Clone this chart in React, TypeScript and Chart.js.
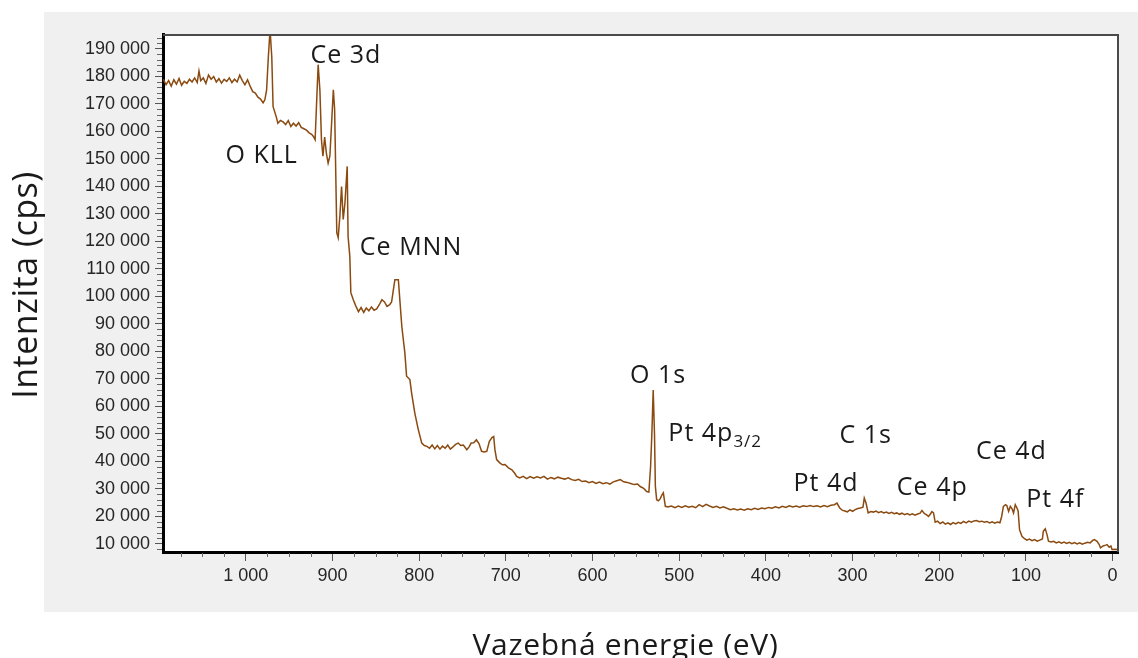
import React, { useEffect, useRef } from 'react';
import { Chart, registerables } from 'chart.js';

Chart.register(...registerables);

// Binding energy (eV) of the survey spectrum points
const energyEV = [
  1095, 1092, 1089, 1086, 1083, 1080, 1077, 1074, 1071, 1068, 1065, 1062, 1059, 1056, 1054, 1052, 1049, 1046, 1043, 1040,
  1037, 1034, 1031, 1028, 1025, 1022, 1019, 1016, 1013, 1010, 1007, 1004, 1001, 998, 995, 992, 989, 986, 983, 980,
  978, 976, 974, 972, 970, 968.5, 965, 963, 960, 957, 954, 951, 948, 945, 942, 939, 936, 933, 930, 927,
  924, 922, 920, 918, 916.5, 914.5, 912.7, 911, 909, 907, 905, 903, 901, 899, 897.5, 895, 893.4, 891.5, 889.5, 887.6,
  885.6, 883, 882, 880, 878.8, 876, 873, 870, 867, 864, 861, 858, 855, 852, 849, 846, 843, 840, 837, 834,
  831.8, 830, 828, 824, 822, 820, 816.5, 814.5, 810.7, 808.7, 805, 801, 797, 794, 791, 788, 785, 782, 779, 776,
  773, 770, 767, 764, 761, 758, 755, 752, 749, 745, 742, 740, 737, 734, 731, 728, 725, 722, 719, 716,
  714, 712.6, 710.6, 707, 704, 701, 697, 693, 690, 687.5, 684, 680, 676, 672, 668, 664, 660, 656, 652, 648,
  644, 640, 636, 632, 628, 624, 620, 616, 612, 608, 604, 600, 596, 592, 588, 584, 580, 576, 572, 568,
  564, 560, 556, 552, 548, 545, 541, 537.5, 535, 533, 531.5, 530, 528.5, 527.5, 526, 524, 522, 520, 518.3, 516,
  513, 509, 505, 501, 497, 493, 489, 485, 481, 477, 473, 469, 465, 461, 457, 453, 449, 445, 441, 437,
  433, 429, 425, 421, 417, 413, 409, 405, 401, 397, 393, 389, 385, 381, 377, 373, 369, 365, 361, 357,
  353, 349, 345, 341, 337, 333, 329, 325, 321, 318, 315, 312, 309, 306, 303, 300, 297, 294, 291, 288,
  286.5, 284.5, 282, 279, 276, 273, 270, 267, 264, 261, 258, 255, 252, 249, 246, 243, 240, 237, 234, 231,
  228, 225, 222, 220, 217, 214.5, 212.4, 210, 208.5, 206.6, 204.7, 202, 199, 196, 193, 190, 187, 184, 181, 178,
  175, 172, 169, 166, 163, 160, 157, 154, 151, 148, 145, 142, 139, 136, 133, 130, 128, 126, 123.5, 122,
  120, 118, 116, 114.3, 112.3, 110.5, 109, 107.4, 104.6, 102, 99, 96, 93, 90, 87, 84, 81, 80, 77.7, 75.7,
  74, 71, 68, 65, 62, 59, 56, 53, 50, 47, 44, 41, 38, 35, 32, 29, 26, 23, 21, 18,
  15.5, 14, 11, 8, 6.5, 4, 2, 0.7, -3, -6,
];

// Intensity (cps)
const intensityCps = [
  179000, 177000, 178500, 176500, 178800, 177200, 179300, 176800, 178200, 177500, 179000, 178000, 179500, 177800, 182000, 178500, 179500, 177500, 180500, 179000,
  180000, 178000, 179200, 177600, 179000, 178200, 179500, 177800, 179000, 178000, 180500, 178500, 177000, 178800, 176500, 174500, 174000, 172500, 171800, 170400,
  171500, 175000, 187000, 197000, 187000, 169000, 165500, 163000, 164000, 163500, 162500, 164000, 161800, 163000, 162000, 163200, 161500, 161000, 160500, 159500,
  159000, 158200, 157000, 172800, 184300, 175000, 157000, 151000, 158000, 152000, 148500, 151000, 163000, 175200, 168000, 123200, 121400, 129100, 140000, 128000,
  134000, 147300, 121900, 114600, 101400, 98800, 96500, 94500, 96000, 94200, 95800, 94800, 96200, 95000, 95500, 97000, 98800, 98000, 96400, 97000,
  98000, 101900, 106100, 106100, 97600, 89100, 79500, 71000, 69800, 64900, 57600, 51600, 46700, 45800, 45500, 44800, 46000, 44600, 45800, 44500,
  45600, 44800, 46000, 44500, 45300, 46200, 46700, 45800, 46000, 44300, 45500, 46700, 46800, 47900, 46500, 43700, 43500, 43700, 47300, 48700,
  49100, 44300, 40700, 39500, 38800, 38900, 37700, 37000, 35800, 34600, 34000, 34600, 33800, 34500, 33900, 34400, 34000, 34600, 33600, 34200,
  33700, 34300, 33900, 33600, 34100, 33400, 33100, 33500, 32700, 32900, 32300, 32700, 32000, 32500, 31900, 32300, 31800, 32600, 33000, 33400,
  32600, 32400, 32000, 31600, 31800, 30900, 30200, 29100, 28900, 38200, 50400, 66000, 50000, 31000, 26100, 25700, 26400, 27800, 28600, 23700,
  23500, 23800, 23200, 23800, 23300, 23900, 23400, 23700, 23200, 24300, 23600, 24400, 23800, 23300, 23700, 23100, 23500, 23000, 22500, 22800,
  22400, 22700, 22300, 22800, 22500, 23000, 22600, 23100, 22800, 23300, 23000, 23500, 23100, 23700, 23300, 23900, 23500, 23800, 23400, 23900,
  23600, 24000, 23600, 23900, 23500, 24000, 23600, 24100, 24300, 24900, 23200, 22300, 22000, 21700, 22400, 21900, 22500, 22900, 23100, 23400,
  26700, 24900, 21300, 21800, 21600, 22000, 21400, 21800, 21300, 21600, 21100, 21500, 21000, 21300, 20800, 21200, 20700, 21100, 20600, 21000,
  20500, 20900, 21200, 22200, 21000, 20600, 20000, 21000, 21800, 21300, 17900, 18300, 17400, 18000, 17200, 17700, 17100, 17800, 17300, 17900,
  17500, 18200, 17700, 18300, 17900, 18400, 18500, 18100, 18300, 17900, 18200, 17700, 18100, 17600, 18000, 17700, 20000, 23700, 24300, 23900,
  21900, 23700, 22800, 21300, 24300, 23200, 22000, 15200, 12800, 12000, 11400, 11800, 11200, 11600, 11000, 11400, 11800, 14600, 15500, 13400,
  11000, 10700, 11000, 10400, 10800, 10300, 10700, 10200, 10600, 10100, 10500, 10000, 10400, 9900, 10300, 10600, 10400, 11300, 11600, 11000,
  9800, 8600, 9300, 9600, 9800, 8800, 9300, 8000, 8100, 8000,
];

const yTickValues = [10000, 20000, 30000, 40000, 50000, 60000, 70000, 80000, 90000, 100000, 110000, 120000, 130000, 140000, 150000, 160000, 170000, 180000, 190000];
const xTickValues = [1000, 900, 800, 700, 600, 500, 400, 300, 200, 100, 0];
const yMinorStep = 2000;
const xMinorStep = 25;

const annotationLabels = ['O KLL', 'Ce 3d', 'Ce MNN', 'O 1s', 'Pt 4p', 'C 1s', 'Pt 4d', 'Ce 4p', 'Ce 4d', 'Pt 4f'];
const annotationSubscripts = ['', '', '', '', '3/2', '', '', '', '', ''];
const annotationEnergy = [1023.4, 925.3, 868.4, 556.7, 512.5, 315.1, 368.2, 248.9, 157.7, 99.6];
const annotationIntensity = [148550, 185020, 115200, 68670, 47320, 46850, 29140, 27940, 40920, 23470];

const xAxisTitle = 'Vazebná energie (eV)';
const yAxisTitle = 'Intenzita (cps)';

const fmt = (v: number) => String(Math.round(v)).replace(/\B(?=(\d{3})+(?!\d))/g, ' ');

const decorPlugin = {
  id: 'decor',
  beforeDraw(chart: any) {
    const { ctx, chartArea: a } = chart;
    ctx.save();
    ctx.fillStyle = '#f0f0f0';
    const gl = a.left - 119;
    const gt = a.top - 22;
    ctx.fillRect(gl, gt, a.right + 20 - gl, a.bottom + 60 - gt);
    ctx.fillStyle = '#ffffff';
    ctx.fillRect(a.left, a.top, a.right - a.left, a.bottom - a.top);
    ctx.restore();
  },
  afterDraw(chart: any) {
    const { ctx, chartArea: a } = chart;
    const xs = chart.scales.x;
    const ys = chart.scales.y;
    ctx.save();
    // top & right frame
    ctx.strokeStyle = '#4a4a4a';
    ctx.lineWidth = 2;
    ctx.beginPath();
    ctx.moveTo(a.left, a.top + 1);
    ctx.lineTo(a.right, a.top + 1);
    ctx.lineTo(a.right, a.bottom);
    ctx.stroke();

    // minor ticks
    ctx.strokeStyle = '#666';
    ctx.lineWidth = 1;
    ctx.beginPath();
    for (let v = Math.ceil(ys.min / yMinorStep) * yMinorStep; v <= ys.max; v += yMinorStep) {
      if (v % 10000 === 0) continue;
      const py = Math.round(ys.getPixelForValue(v)) + 0.5;
      ctx.moveTo(a.left - 6, py);
      ctx.lineTo(a.left - 1, py);
    }
    for (let v = Math.ceil(xs.min / xMinorStep) * xMinorStep; v <= xs.max; v += xMinorStep) {
      if (v % 100 === 0) continue;
      const px = Math.round(xs.getPixelForValue(v)) + 0.5;
      ctx.moveTo(px, a.bottom + 1);
      ctx.lineTo(px, a.bottom + 5);
    }
    ctx.stroke();

    // annotations
    ctx.fillStyle = '#1a1a1a';
    ctx.textAlign = 'left';
    ctx.textBaseline = 'alphabetic';
    annotationLabels.forEach((t, i) => {
      const px = xs.getPixelForValue(annotationEnergy[i]);
      const py = ys.getPixelForValue(annotationIntensity[i]);
      ctx.font = '25px "Open Sans"';
      (ctx as any).letterSpacing = '1px';
      ctx.fillText(t, px, py);
      const sub = annotationSubscripts[i];
      if (sub) {
        const w = ctx.measureText(t).width;
        ctx.font = '17px "Open Sans"';
        ctx.fillText(sub, px + w, py + 6);
      }
    });

    // axis titles
    ctx.fillStyle = '#1a1a1a';
    ctx.textAlign = 'center';
    ctx.font = '30px "Open Sans"';
    (ctx as any).letterSpacing = '0.7px';
    ctx.fillText(xAxisTitle, (a.left + a.right) / 2 - 15, a.bottom + 103);
    ctx.font = '34px "Open Sans"';
    (ctx as any).letterSpacing = '0.5px';
    ctx.translate(37, (a.top + a.bottom) / 2 - 8);
    ctx.rotate(-Math.PI / 2);
    ctx.fillText(yAxisTitle, 0, 0);
    (ctx as any).letterSpacing = '0px';
    ctx.restore();
  },
};

export default function App() {
  const canvasRef = useRef<HTMLCanvasElement | null>(null);

  useEffect(() => {
    const canvas = canvasRef.current;
    if (!canvas) return;
    const points = energyEV.map((e, i) => ({ x: e, y: intensityCps[i] }));
    const tickFont = { family: '"Liberation Sans", Arial, sans-serif', size: 18 };
    const chart = new Chart(canvas, {
      type: 'line',
      data: {
        datasets: [
          {
            data: points,
            borderColor: '#8a4a10',
            borderWidth: 1.5,
            pointRadius: 0,
            tension: 0,
            fill: false,
          },
        ],
      },
      options: {
        responsive: false,
        animation: false,
        events: [],
        layout: { padding: { left: 0, top: 34, right: 20, bottom: 0 } },
        plugins: { legend: { display: false }, tooltip: { enabled: false }, title: { display: false } },
        scales: {
          x: {
            type: 'linear',
            reverse: true,
            min: -6.2,
            max: 1095.5,
            afterBuildTicks: (scale: any) => {
              scale.ticks = xTickValues.map((v) => ({ value: v }));
            },
            afterFit: (scale: any) => {
              scale.height = 106;
            },
            ticks: {
              autoSkip: false,
              maxRotation: 0,
              padding: 4,
              color: '#262626',
              font: tickFont,
              callback: (v: any) => fmt(Number(v)),
            },
            grid: { drawOnChartArea: false, drawTicks: true, tickLength: 9, tickColor: '#555', tickWidth: 1 },
            border: { display: true, color: '#000', width: 3 },
          },
          y: {
            type: 'linear',
            min: 7090,
            max: 195450,
            afterBuildTicks: (scale: any) => {
              scale.ticks = yTickValues.map((v) => ({ value: v }));
            },
            afterFit: (scale: any) => {
              scale.width = 163;
            },
            ticks: {
              autoSkip: false,
              padding: 5,
              color: '#262626',
              font: tickFont,
              callback: (v: any) => fmt(Number(v)),
            },
            grid: { drawOnChartArea: false, drawTicks: true, tickLength: 8, tickColor: '#555', tickWidth: 1 },
            border: { display: true, color: '#000', width: 3 },
          },
        },
      },
      plugins: [decorPlugin],
    } as any);
    return () => chart.destroy();
  }, []);

  return (
    <div style={{ position: 'absolute', left: 0, top: 0, width: 1138, height: 658, background: '#fff' }}>
      <canvas ref={canvasRef} width={1138} height={658} style={{ display: 'block' }} />
    </div>
  );
}
